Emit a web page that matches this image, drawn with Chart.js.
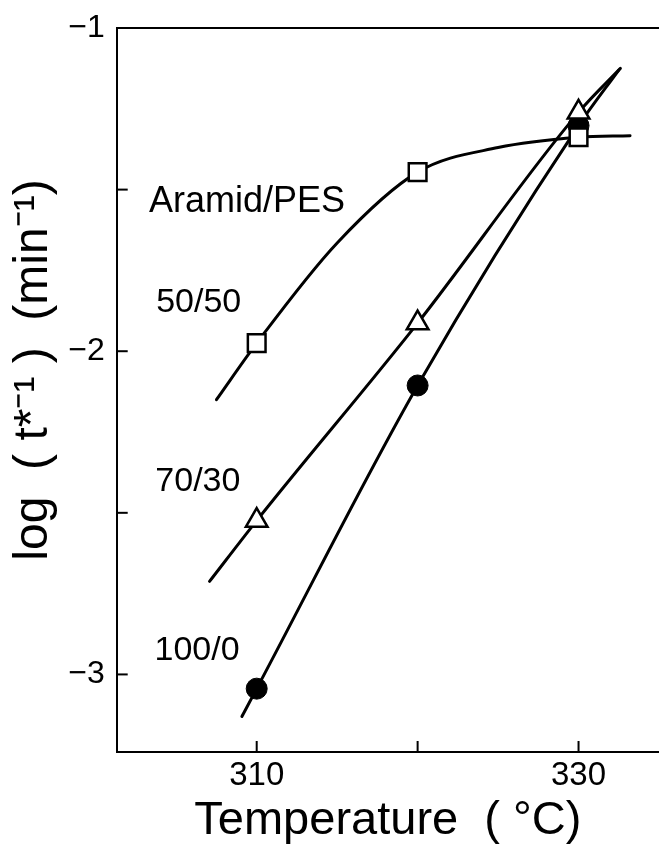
<!DOCTYPE html>
<html>
<head>
<meta charset="utf-8">
<script src="https://cdn.jsdelivr.net/npm/chart.js@4.4.1/dist/chart.umd.min.js"></script>
<style>
  html, body { margin: 0; padding: 0; background: #fff; }
</style>
</head>
<body>
<canvas id="tempChart" width="659" height="845"></canvas>
<script>
// measured points (log 1/t*, min^-1) at each temperature
const temps = [310, 320, 330];
const blend5050 = [-1.975, -1.446, -1.338];
const blend7030 = [-2.524, -1.913, -1.261];
const blend1000 = [-3.044, -2.106, -1.302];

// hand drawn guide curves
const curve5050X = [307.5, 310, 315, 320, 325, 330, 333.2];
const curve5050Y = [-2.15, -1.975, -1.665, -1.446, -1.37, -1.338, -1.333];
const curve7030X = [307.07, 310, 320, 330, 332.6];
const curve7030Y = [-2.712, -2.524, -1.913, -1.261, -1.125];
const curve1000X = [309.08, 310, 320, 330, 332.5];
const curve1000Y = [-3.13, -3.044, -2.106, -1.302, -1.13];

// axes
const xTicks = [310, 320, 330];
const xTickLabels = ['310', '', '330'];
const yTicks = [-1, -1.5, -2, -2.5, -3];
const yTickLabels = ['\u22121', '', '\u22122', '', '\u22123'];

const FONT = "'Liberation Sans', Arial, sans-serif";

function pts(xs, ys) {
    return xs.map((x, i) => ({ x: x, y: ys[i] }));
}

// short tick marks pointing into the plot, like the original figure
const inwardTicks = {
    id: "inwardTicks",
    afterDraw(chart) {
        const { ctx, chartArea, scales } = chart;
        ctx.save();
        ctx.strokeStyle = "#000";
        ctx.lineWidth = 2;
        scales.x.ticks.forEach(t => {
            const px = scales.x.getPixelForValue(t.value);
            ctx.beginPath();
            ctx.moveTo(px, chartArea.bottom);
            ctx.lineTo(px, chartArea.bottom - 11);
            ctx.stroke();
        });
        scales.y.ticks.forEach(t => {
            const py = scales.y.getPixelForValue(t.value);
            if (py <= chartArea.top + 1) return;
            ctx.beginPath();
            ctx.moveTo(chartArea.left, py);
            ctx.lineTo(chartArea.left + 11, py);
            ctx.stroke();
        });
        ctx.restore();
    }
};

// curve names written in the plot (anchored in data units)
const curveNotes = {
    id: "curveNotes",
    afterDraw(chart, args, opts) {
        const { ctx, scales } = chart;
        ctx.save();
        ctx.fillStyle = "#000";
        ctx.textAlign = "left";
        ctx.textBaseline = "alphabetic";
        opts.items.forEach(n => {
            ctx.font = n.size + "px " + FONT;
            ctx.fillText(n.text, scales.x.getPixelForValue(n.x), scales.y.getPixelForValue(n.y));
        });
        ctx.restore();
    }
};

const lineStyle = {
    showLine: true,
    borderColor: "#000",
    borderWidth: 3,
    borderCapStyle: "round",
    pointRadius: 0,
    cubicInterpolationMode: "monotone",
    order: 2
};

// keep the plot area flush to the canvas edges (no auto label padding)
function noPad(s) {
    s.paddingLeft = 0;
    s.paddingRight = 0;
    s.paddingTop = 0;
    s.paddingBottom = 0;
}

const ctx = document.getElementById("tempChart").getContext("2d");

new Chart(ctx, {
    type: "scatter",
    data: {
        datasets: [
            { label: "50/50", data: pts(temps, blend5050), pointStyle: "rect", pointRadius: 12.5,
              backgroundColor: "#fff", borderColor: "#000", borderWidth: 2.5, order: 0 },
            { label: "70/30", data: pts(temps, blend7030), pointStyle: "triangle", pointRadius: 12.5,
              backgroundColor: "#fff", borderColor: "#000", borderWidth: 2.5, order: 0 },
            { label: "100/0", data: pts(temps, blend1000), pointStyle: "circle", pointRadius: 10.5,
              backgroundColor: "#000", borderColor: "#000", borderWidth: 1, order: 0 },
            Object.assign({ label: "fit 50/50", data: pts(curve5050X, curve5050Y) }, lineStyle),
            Object.assign({ label: "fit 70/30", data: pts(curve7030X, curve7030Y) }, lineStyle),
            Object.assign({ label: "fit 100/0", data: pts(curve1000X, curve1000Y) }, lineStyle)
        ]
    },
    options: {
        responsive: false,
        animation: false,
        layout: { padding: 0, autoPadding: false },
        plugins: {
            legend: { display: false },
            tooltip: { enabled: false },
            curveNotes: {
                items: [
                    { text: "Aramid/PES", x: 303.3, y: -1.568, size: 36 },
                    { text: "50/50", x: 303.75, y: -1.880, size: 34 },
                    { text: "70/30", x: 303.7, y: -2.433, size: 34 },
                    { text: "100/0", x: 303.65, y: -2.954, size: 34 }
                ]
            }
        },
        scales: {
            x: {
                type: "linear",
                position: "bottom",
                min: 301.3,
                max: 335,
                afterBuildTicks: s => { s.ticks = xTicks.map(v => ({ value: v })); },
                afterFit: s => { s.height = 93; noPad(s); },
                grid: { display: false, drawTicks: false },
                border: { display: true, color: "#000", width: 2 },
                ticks: {
                    autoSkip: false,
                    maxRotation: 0,
                    padding: 7,
                    color: "#000",
                    font: { family: FONT, size: 33, lineHeight: 1 },
                    callback: (v, i) => xTickLabels[i]
                },
                title: {
                    display: true,
                    text: "Temperature  ( \u00b0C)",
                    color: "#000",
                    font: { family: FONT, size: 47, lineHeight: 1 },
                    padding: { top: 0, bottom: 0 }
                }
            },
            xTop: {
                type: "linear",
                position: "top",
                min: 301.3,
                max: 335,
                afterFit: s => { s.height = 28; noPad(s); },
                grid: { display: false, drawTicks: false },
                border: { display: true, color: "#000", width: 2 },
                ticks: { display: false }
            },
            y: {
                type: "linear",
                position: "left",
                min: -3.24,
                max: -1,
                afterBuildTicks: s => { s.ticks = yTicks.map(v => ({ value: v })); },
                afterFit: s => { s.width = 116.7; noPad(s); },
                grid: { display: false, drawTicks: false },
                border: { display: true, color: "#000", width: 2 },
                ticks: {
                    autoSkip: false,
                    padding: 12,
                    color: "#000",
                    font: { family: FONT, size: 32, lineHeight: 1 },
                    callback: (v, i) => yTickLabels[i]
                },
                title: {
                    display: true,
                    text: "   log  ( t*\u207b\u00b9 )  (min\u207b\u00b9)",
                    color: "#000",
                    font: { family: FONT, size: 48, lineHeight: 1 },
                    padding: { top: 10, bottom: 0 }
                }
            }
        }
    },
    plugins: [inwardTicks, curveNotes]
});
</script>
</body>
</html>
